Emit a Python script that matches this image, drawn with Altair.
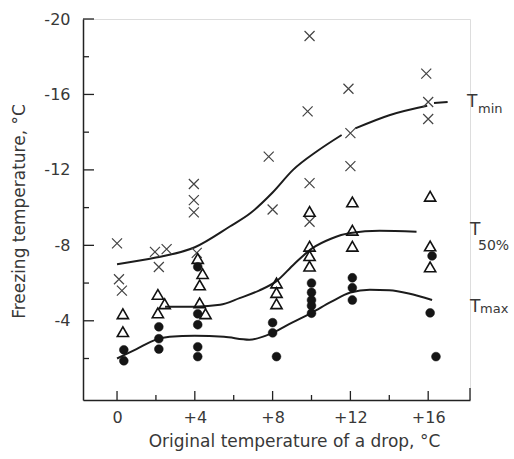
import altair as alt
import pandas as pd

# Freezing temperature of water drops (°C) versus the drop's original temperature (°C)

# individual drops: lowest freezing temperatures (crosses)
cross_x = [0.0, 0.1, 0.25, 1.95, 2.55, 2.15, 3.95, 3.95, 3.95, 4.1,
           7.8, 8.0, 9.9, 9.8, 9.9, 9.9, 11.9, 12.0, 12.0, 15.9, 16.0, 16.0]
cross_t = [-8.1, -6.2, -5.6, -7.65, -7.8, -6.85, -11.25, -10.4, -9.75, -7.6,
           -12.7, -9.9, -19.1, -15.1, -11.3, -9.25, -16.3, -13.95, -12.2, -17.1, -15.6, -14.7]

# median freezing temperatures (open triangles)
tri_x = [0.3, 0.3, 2.1, 2.45, 2.1, 4.15, 4.4, 4.25, 4.25, 4.55,
         8.2, 8.2, 8.2, 9.9, 9.9, 9.9, 9.9, 12.1, 12.1, 12.1, 16.1, 16.1, 16.1]
tri_t = [-4.37, -3.42, -5.4, -4.9, -4.42, -7.3, -6.5, -5.9, -4.95, -4.37,
         -6.0, -5.5, -4.9, -9.8, -7.95, -7.45, -6.9, -10.3, -8.8, -7.95, -10.6, -7.97, -6.86]

# highest freezing temperatures (filled dots)
dot_x = [0.35, 0.35, 2.15, 2.15, 2.15, 4.15, 4.15, 4.15, 4.15, 4.15,
         8.0, 8.0, 8.2, 10.0, 10.0, 10.0, 10.0, 10.0, 12.1, 12.1, 12.1, 16.2, 16.1, 16.4]
dot_t = [-2.46, -1.88, -3.68, -3.05, -2.5, -6.86, -4.37, -3.79, -2.62, -2.1,
         -3.9, -3.36, -2.1, -6.0, -5.5, -5.1, -4.8, -4.4, -6.28, -5.75, -5.1, -7.44, -4.42, -2.1]

# smoothed curves
tmin_x = [0.0, 2.0, 4.0, 5.8, 6.85, 8.0, 9.05, 10.3, 11.55,
          12.25, 14.0, 15.95,
          16.3, 17.0]
tmin_t = [-7.0, -7.35, -7.9, -9.0, -9.7, -10.8, -12.0, -13.0, -13.85,
          -14.2, -14.9, -15.4,
          -15.55, -15.6]
tmin_seg = [1, 1, 1, 1, 1, 1, 1, 1, 1,
            2, 2, 2,
            3, 3]

t50_x = [2.47, 4.0, 5.3, 6.3, 7.3, 8.2, 9.1, 10.05, 11.0, 12.0, 13.5, 15.4]
t50_t = [-4.74, -4.75, -4.85, -5.2, -5.6, -6.1, -7.0, -7.85, -8.35, -8.65, -8.77, -8.72]

tmax_x = [0.0, 1.0, 2.0, 2.7, 4.0, 5.5, 6.8, 8.0, 9.0, 10.0, 11.0, 12.0, 13.0, 14.0, 15.0, 16.2]
tmax_t = [-2.0, -2.5, -3.0, -3.15, -3.2, -3.15, -3.0, -3.36, -3.9, -4.42, -5.0, -5.5,
          -5.65, -5.62, -5.45, -5.1]

# axis ticks
x_major = [0, 4, 8, 12, 16]
x_minor = [2, 6, 10, 14]
x_end = [18.15]
y_major = [-20, -16, -12, -8, -4]
y_minor = [-18, -14, -10, -6, -2]

W, H = 387, 381
INK = "#222222"
TEXT = "#383838"
FONT = "DejaVu Sans"

xs = alt.Scale(domain=[-1.75, 18.15], nice=False, zero=False)
ys = alt.Scale(domain=[0.2, -20], nice=False, zero=False)

axis_common = dict(
    ticks=False, grid=False, domainColor=INK, domainWidth=1.5,
    labelFont=FONT, labelColor=TEXT, labelFontSize=16,
    titleFont=FONT, titleFontSize=17, titleFontWeight="normal", titleColor=TEXT,
    titleAlign="center", titleBaseline="middle",
)
x_axis = alt.Axis(
    values=x_major,
    labelExpr="datum.value > 0 ? '+' + datum.value : '' + datum.value",
    labelPadding=9,
    title="Original temperature of a drop, °C",
    titleX=211, titleY=41,
    **axis_common,
)
y_axis = alt.Axis(
    values=y_major,
    labelExpr="'-' + abs(datum.value)",
    labelPadding=13,
    title="Freezing temperature, °C",
    titleX=-64, titleY=192, titleAngle=270,
    **axis_common,
)

crosses = pd.DataFrame({"x": cross_x, "t": cross_t})
tris = pd.DataFrame({"x": tri_x, "t": tri_t})
dots = pd.DataFrame({"x": dot_x, "t": dot_t})
tmin = pd.DataFrame({"x": tmin_x, "t": tmin_t, "seg": tmin_seg})
t50 = pd.DataFrame({"x": t50_x, "t": t50_t})
tmax = pd.DataFrame({"x": tmax_x, "t": tmax_t})


def X():
    return alt.X("x:Q", scale=xs, axis=x_axis)


def Y():
    return alt.Y("t:Q", scale=ys, axis=y_axis)


# inward ticks
def yticks(vals, length):
    return alt.Chart(pd.DataFrame({"t": vals})).mark_rule(color=INK, strokeWidth=1.3).encode(
        y=Y(), x=alt.value(0), x2=alt.value(length))


def xticks(vals, length):
    return alt.Chart(pd.DataFrame({"x": vals})).mark_rule(color=INK, strokeWidth=1.3).encode(
        x=X(), y=alt.value(H), y2=alt.value(H - length))


curve_style = dict(color="#1c1c1c", strokeWidth=2, interpolate="monotone")
line_min = alt.Chart(tmin).mark_line(**curve_style).encode(x=X(), y=Y(), detail="seg:N")
line_50 = alt.Chart(t50).mark_line(**curve_style).encode(x=X(), y=Y())
line_max = alt.Chart(tmax).mark_line(**curve_style).encode(x=X(), y=Y())

pts_cross = alt.Chart(crosses).mark_point(
    shape="M-1,-1L1,1M-1,1L1,-1", filled=False, stroke="#444444", strokeWidth=1.2,
    size=100, opacity=1).encode(x=X(), y=Y())
pts_tri = alt.Chart(tris).mark_point(
    shape="triangle-up", filled=False, stroke="#111111", strokeWidth=1.6,
    size=125, opacity=1).encode(x=X(), y=Y())
pts_dot = alt.Chart(dots).mark_point(
    shape="circle", filled=True, fill="#151515", stroke="#151515", strokeWidth=0.5,
    size=78, opacity=1).encode(x=X(), y=Y())


def label(text, px, py, size):
    return alt.Chart(pd.DataFrame({"k": [0]})).mark_text(
        text=text, align="left", baseline="alphabetic", fontSize=size,
        font=FONT, color=TEXT).encode(x=alt.value(px), y=alt.value(py))


labels = [
    label("T", 384, 88, 17), label("min", 395, 94, 13),
    label("T", 387, 216, 17), label("50%", 395, 231, 14),
    label("T", 387, 293, 17), label("max", 397, 294, 13),
]

chart = alt.layer(
    line_min, line_50, line_max,
    yticks(y_major, 11), yticks(y_minor, 6),
    xticks(x_major, 9), xticks(x_minor, 5), xticks(x_end, 12),
    pts_cross, pts_tri, pts_dot,
    *labels,
).properties(
    width=W, height=H,
    autosize=alt.AutoSizeParams(type="none"),
    padding={"left": 83, "top": 19, "right": 44, "bottom": 59},
).configure_view(stroke=None).configure(background="white")

chart.save("out.html", embed_options={"renderer": "svg", "actions": False})
